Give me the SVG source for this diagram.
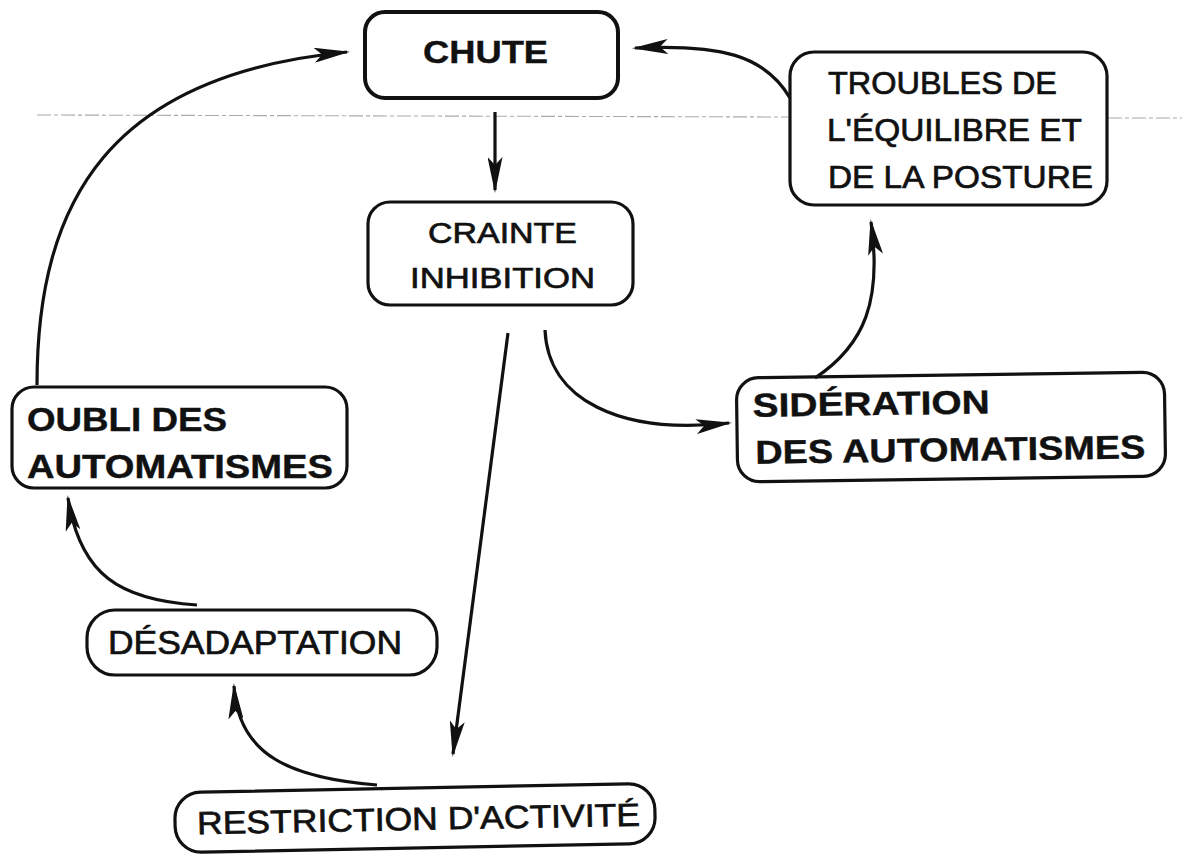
<svg xmlns="http://www.w3.org/2000/svg" width="1182" height="856" viewBox="0 0 1182 856">
  <defs>
    <style>
      .box { fill: none; stroke: #111; stroke-width: 3.2; }
      .t { font-family: "Liberation Sans", Arial, Helvetica, sans-serif; fill: #111; stroke: #111; stroke-width: 0.7; }
      .b { font-weight: bold; stroke-width: 0.4; }
      .conn { fill: none; stroke: #111; stroke-width: 3.2; marker-end: url(#arr); }
      .fold { fill: none; stroke: #aaa; stroke-width: 1.1; stroke-dasharray: 14 3 4 3; }
    </style>
    <marker id="arr" viewBox="0 0 36 15" refX="33" refY="7.5" markerWidth="36" markerHeight="15" markerUnits="userSpaceOnUse" orient="auto">
      <path d="M0,0 L36,7.5 L0,15 L8,7.5 z" fill="#111"/>
    </marker>
  </defs>
  <rect width="1182" height="856" fill="#fff"/>

  <g id="fold-line">
    <line class="fold" x1="37" y1="115" x2="790" y2="117"/>
    <line class="fold" x1="1108" y1="118" x2="1182" y2="118"/>
  </g>

  <g id="connectors">
    <path class="conn" d="M495,112 L495,190"/>
    <path class="conn" d="M37,385 C37,200 110,75 347,52"/>
    <path class="conn" d="M790,98 C765,55 720,44 635,48"/>
    <path class="conn" d="M545,330 C548,400 620,435 729,423"/>
    <path class="conn" d="M815,378 C865,345 882,300 871,222"/>
    <path class="conn" d="M508,333 L453,754"/>
    <path class="conn" d="M377,785 C290,778 238,755 234,686"/>
    <path class="conn" d="M197,605 C120,600 80,575 68,498"/>
  </g>

  <g id="chute">
    <rect class="box" x="365" y="12" width="253" height="86" rx="20" style="stroke-width:4"/>
    <text class="t b" x="423" y="63" font-size="32" textLength="125" lengthAdjust="spacingAndGlyphs">CHUTE</text>
  </g>

  <g id="crainte">
    <rect class="box" x="368" y="202" width="265" height="103" rx="22"/>
    <text class="t" x="428" y="243" font-size="30" textLength="149" lengthAdjust="spacingAndGlyphs">CRAINTE</text>
    <text class="t" x="410" y="288" font-size="30" textLength="185" lengthAdjust="spacingAndGlyphs">INHIBITION</text>
  </g>

  <g id="troubles">
    <rect class="box" x="790" y="52" width="317" height="153" rx="24"/>
    <text class="t" x="828" y="94" font-size="31" textLength="229" lengthAdjust="spacingAndGlyphs">TROUBLES DE</text>
    <text class="t" x="827" y="141" font-size="31" textLength="255" lengthAdjust="spacingAndGlyphs">L'ÉQUILIBRE ET</text>
    <text class="t" x="828" y="188" font-size="31" textLength="265" lengthAdjust="spacingAndGlyphs">DE LA POSTURE</text>
  </g>

  <g id="oubli">
    <rect class="box" x="12" y="387" width="335" height="101" rx="22"/>
    <text class="t b" x="27" y="431" font-size="33" textLength="200" lengthAdjust="spacingAndGlyphs">OUBLI DES</text>
    <text class="t b" x="27" y="478" font-size="33" textLength="306" lengthAdjust="spacingAndGlyphs">AUTOMATISMES</text>
  </g>

  <g id="sideration" transform="rotate(-0.8 950 427)">
    <rect class="box" x="737" y="375" width="428" height="104" rx="22"/>
    <text class="t b" x="753" y="414" font-size="33" textLength="237" lengthAdjust="spacingAndGlyphs">SIDÉRATION</text>
    <text class="t b" x="755" y="461" font-size="33" textLength="390" lengthAdjust="spacingAndGlyphs">DES AUTOMATISMES</text>
  </g>

  <g id="desadaptation">
    <rect class="box" x="87" y="610" width="350" height="65" rx="28"/>
    <text class="t" x="108" y="654" font-size="33" textLength="294" lengthAdjust="spacingAndGlyphs">DÉSADAPTATION</text>
  </g>

  <g id="restriction" transform="rotate(-1.1 415 818)">
    <rect class="box" x="175" y="788" width="480" height="60" rx="26"/>
    <text class="t" x="197" y="830" font-size="32" textLength="443" lengthAdjust="spacingAndGlyphs">RESTRICTION D'ACTIVITÉ</text>
  </g>
</svg>
